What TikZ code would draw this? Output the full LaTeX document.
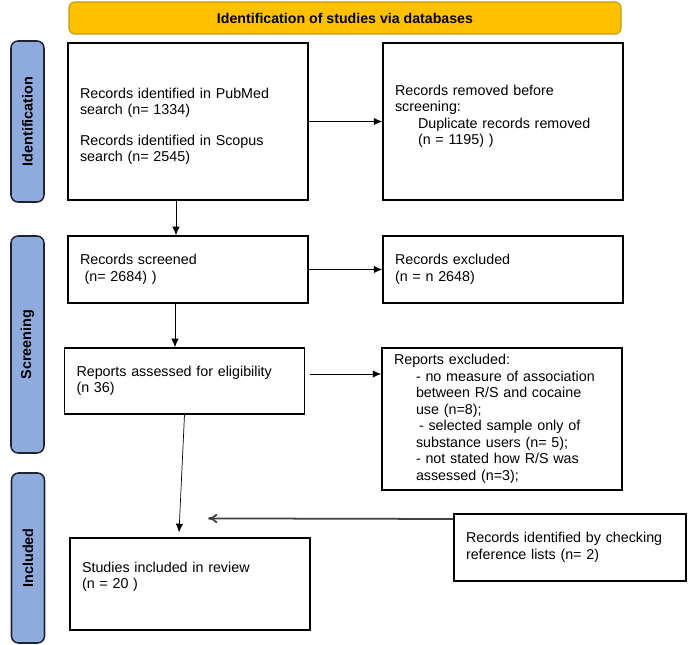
\documentclass[tikz,border=0pt]{standalone}
\usepackage{fontspec}
\setmainfont{Liberation Sans}
\usepackage{xcolor}
\usetikzlibrary{shapes,arrows,arrows.meta,positioning,calc}
\definecolor{headfill}{HTML}{FFC000}
\definecolor{headline}{HTML}{C49A1A}
\definecolor{barfill}{HTML}{8FAADC}
\definecolor{barline}{HTML}{1E2330}
\tikzstyle{box} = [draw, line width=1pt, rectangle, align=left, inner xsep=0.36cm, text width=6.48cm, minimum width=7.2cm, font=\fontsize{12.2}{14.1}\selectfont]
\tikzstyle{header} = [draw=headline, line width=1pt, fill=headfill, rounded corners=5pt, minimum width=16.56cm, minimum height=0.96cm, font=\fontsize{12.1}{14}\selectfont\bfseries]
\tikzstyle{phase} = [draw=barline, line width=1.3pt, fill=barfill, rounded corners=6pt, rotate=90, minimum height=0.99cm, font=\fontsize{12.3}{14}\selectfont\bfseries]

\begin{document}
\begin{tikzpicture}[auto, node distance=1.0cm, >={Latex[length=2.6mm,width=2.2mm]}]
      \useasboundingbox (0,0) rectangle (20.7,-19.35);
      \node[header] (head) at (10.35,-0.54) {Identification of studies via databases};
      \node[phase, minimum width=4.83cm] (ident) at (0.825,-3.645) {Identification};
      \node[phase, minimum width=6.51cm] (screen) at (0.825,-10.335) {Screening};
      \node[phase, minimum width=5.1cm] (incl) at (0.84,-16.74) {Included};
      \node[box, minimum height=4.71cm] (box1) at (5.64,-3.645) {\rule{0pt}{0.6cm}Records identified in PubMed\\search (n= 1334)\\[0.43cm]Records identified in Scopus\\search (n= 2545)};
      \node[box, minimum height=4.71cm, right of=box1, node distance=9.45cm] (box2) {Records removed before\\screening:\\\hspace*{0.69cm}Duplicate records removed\\\hspace*{0.69cm}(n = 1195) )\rule[-0.4cm]{0pt}{0pt}};
      \node[box, minimum height=2.01cm, below of=box1, node distance=4.44cm] (box3) {Records screened\\\hspace*{4pt}(n= 2684) )};
      \node[box, minimum height=2.01cm, right of=box3, node distance=9.45cm] (box4) {Records excluded\\(n = n 2648)};
      \node[box, minimum height=1.98cm, below of=box3, node distance=3.345cm, xshift=-0.105cm] (box5) {Reports assessed for eligibility\\(n 36)};
      \node[box, minimum height=4.26cm, right of=box5, node distance=9.525cm, yshift=-1.14cm] (box6) {Reports excluded:\\\hspace*{0.66cm}- no measure of association\\\hspace*{0.66cm}between R/S and cocaine\\\hspace*{0.66cm}use (n=8);\\\hspace*{0.75cm}- selected sample only of\\\hspace*{0.66cm}substance users (n= 5);\\\hspace*{0.66cm}- not stated how R/S was\\\hspace*{0.66cm}assessed (n=3);};
      \node[box, minimum height=2.76cm, below of=box5, node distance=6.09cm, xshift=0.165cm] (box7) {Studies included in review\\(n = 20 )\rule[-0.52cm]{0pt}{0pt}};
      \node[box, minimum height=2.01cm, minimum width=6.96cm, text width=6.24cm, right of=box7, node distance=11.4cm, yshift=1.095cm] (box8) {Records identified by checking\\reference lists (n= 2)};
      \draw[->, line width=0.8pt] (box1) -- (box2);
      \draw[->, line width=0.8pt] ([xshift=-0.36cm]box1.south) -- ([xshift=-0.36cm]box3.north);
      \draw[->, line width=0.8pt] (box3) -- (box4);
      \draw[->, line width=0.8pt] ([xshift=-0.39cm]box3.south) -- ([xshift=-0.39cm]box3.south |- box5.north);
      \draw[->, line width=0.8pt] ([xshift=0.15cm,yshift=0.21cm]box5.east) -- ([yshift=0.21cm]box5.east -| box6.west);
      \draw[->, line width=0.6pt] (box5.south) -- ([xshift=-0.33cm,yshift=0.15cm]box7.north);
      \draw[-{To[length=2.8mm,width=2.8mm]}, line width=1.5pt, draw=black!75] ([yshift=0.855cm]box8.west) -- ([xshift=0.54cm,yshift=0.57cm]box7.north);
\end{tikzpicture}
\end{document}
